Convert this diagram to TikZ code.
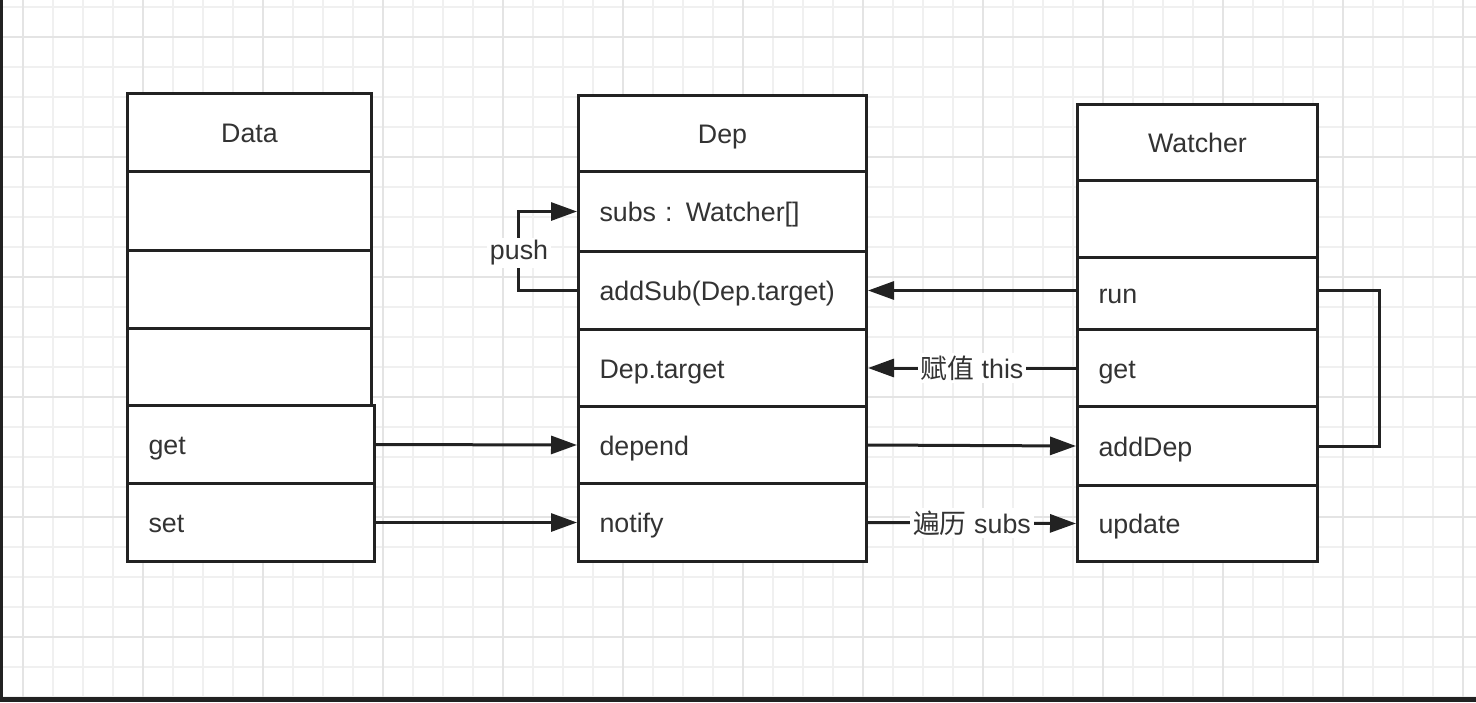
\documentclass[tikz,border=0pt]{standalone}
\usepackage{fontspec}
\setmainfont{Liberation Sans}
\newfontfamily\cjk{Noto Sans CJK SC}
\usetikzlibrary{arrows.meta}
\definecolor{ink}{HTML}{222222}
\definecolor{txt}{HTML}{333333}
\definecolor{gridminor}{HTML}{F0F0F0}
\definecolor{gridmajor}{HTML}{E4E4E4}
\tikzset{
  cellbase/.style={draw=ink, line width=1.5pt, fill=white, text=txt,
    font=\fontsize{13.4pt}{16pt}\selectfont, text height=11pt, text depth=1pt,
    inner ysep=0pt, anchor=north west},
  conn/.style={draw=ink, line width=1.5pt, -{Triangle[length=13pt,width=9pt]}},
  plainconn/.style={draw=ink, line width=1.5pt},
  lbl/.style={fill=white, text=txt, font=\fontsize{13.4pt}{16pt}\selectfont, inner sep=1.5pt},
  gminor/.style={draw=gridminor, line width=1pt},
  gmajor/.style={draw=gridmajor, line width=1pt}
}
\newcommand\titlecell[6]{%
  \pgfmathsetmacro\cellw{(#4-#2)*0.5}\pgfmathsetmacro\cellh{(#5-#3)*0.5}%
  \node[cellbase, inner xsep=0pt, minimum width=\cellw pt, minimum height=\cellh pt] (#1) at (#2,#3) {#6};}
\newcommand\membercell[6]{%
  \pgfmathsetmacro\cellw{(#4-#2)*0.5-21}\pgfmathsetmacro\cellh{(#5-#3)*0.5}%
  \node[cellbase, align=left, text width=\cellw pt, inner xsep=10.5pt, minimum height=\cellh pt] (#1) at (#2,#3) {#6};}
\begin{document}
\begin{tikzpicture}[x=0.5pt, y=-0.5pt]
\useasboundingbox (0,0) rectangle (1476,702);
\fill[white] (0,0) rectangle (1476,702);
% grid
\foreach \gx in {23,53,...,1463} \draw[gminor] (\gx,0) -- (\gx,702);
\foreach \gy in {7,37,...,697} \draw[gminor] (0,\gy) -- (1476,\gy);
\foreach \gx in {23,143,...,1463} \draw[gmajor] (\gx,0) -- (\gx,702);
\foreach \gy in {37,157,...,637} \draw[gmajor] (0,\gy) -- (1476,\gy);
\fill[ink] (0,0) rectangle (2.5,702);
\fill[ink] (0,697) rectangle (1476,702);

% Data
\titlecell{data}{126}{92}{370}{170}{Data}
\membercell{d1}{126}{170}{370}{249}{}
\membercell{d2}{126}{249}{370}{327}{}
\membercell{d3}{126}{327}{370}{404}{}
\membercell{dget}{126}{404}{373}{482}{get}
\membercell{dset}{126}{482}{373}{560}{set}

% Dep
\titlecell{dep}{577}{94}{865}{170}{Dep}
\membercell{subs}{577}{170}{865}{250}{subs : Watcher[]}
\membercell{addsub}{577}{250}{865}{328}{addSub(Dep.target)}
\membercell{deptarget}{577}{328}{865}{405}{Dep.target}
\membercell{depend}{577}{405}{865}{482}{depend}
\membercell{notify}{577}{482}{865}{560}{notify}

% Watcher
\titlecell{watcher}{1076}{103}{1316}{179}{Watcher}
\membercell{w1}{1076}{179}{1316}{256}{}
\membercell{run}{1076}{256}{1316}{328}{run}
\membercell{wget}{1076}{328}{1316}{405}{get}
\membercell{adddep}{1076}{405}{1316}{484}{addDep}
\membercell{update}{1076}{484}{1316}{560}{update}

% connectors
\draw[conn] (dget.east) -- (depend.west);
\draw[conn] (dset.east) -- (notify.west);
\draw[conn] (depend.east) -- (adddep.west);
\draw[conn] (notify.east) -- node[lbl] (lsubs) {{\cjk 遍历} subs} (update.west);
\draw[conn] (run.west |- addsub.east) -- (addsub.east);
\draw[conn] (wget.west) -- node[lbl] (lthis) {{\cjk 赋值} this} (deptarget.east);
\draw[conn] (addsub.west) -- ++(-59,0) coordinate (pushc) |- (subs.west);
\node[lbl] (push) at (519,253) {push};
\draw[plainconn] (run.east |- addsub.east) -- ++(60,0) |- (adddep.east);
\end{tikzpicture}
\end{document}
